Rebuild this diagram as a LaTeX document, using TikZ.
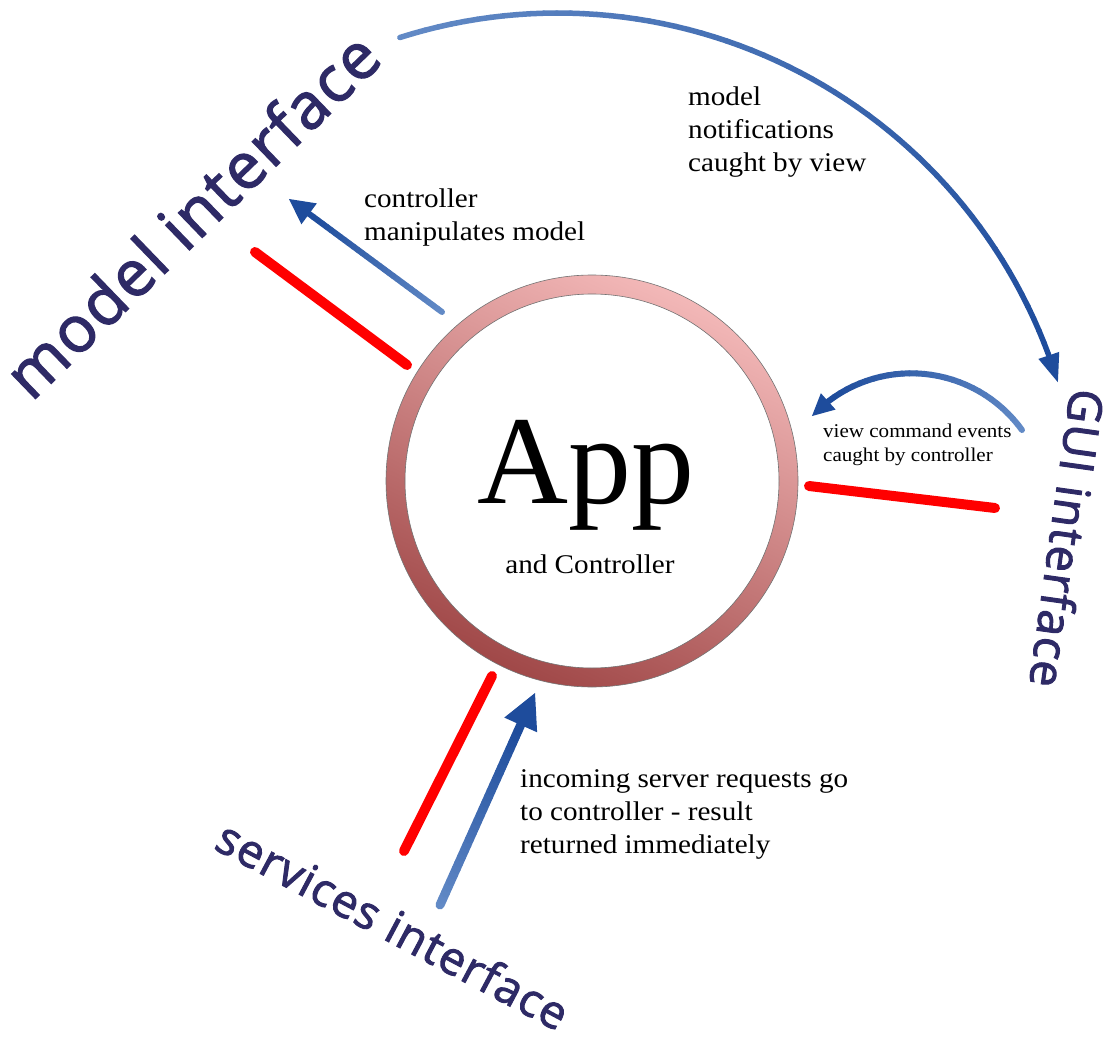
\documentclass[tikz,border=0pt]{standalone}
\usepackage{fontspec}
\usetikzlibrary{calc}
\setmainfont{Liberation Serif}
\newfontfamily\labfont[FakeStretch=1.08]{Liberation Serif}
\newfontfamily\bigsans[FakeBold=2,LetterSpace=2.5]{Open Sans}
\definecolor{navy}{RGB}{46,42,102}
\definecolor{blueL}{RGB}{98,138,198}
\definecolor{blueD}{RGB}{30,76,156}
\definecolor{ringL}{RGB}{243,184,184}
\definecolor{ringD}{RGB}{160,72,72}
\definecolor{barred}{RGB}{255,0,0}
\tikzset{
  redbar/.style={draw=barred, line width=10, line cap=round},
  lab/.style={font=\labfont\fontsize{27}{33}\selectfont, align=left, inner sep=0, anchor=base west, text=black},
  smalllab/.style={font=\labfont\fontsize{19.5}{24}\selectfont, align=left, inner sep=0, anchor=base west, text=black},
  iface/.style={text=navy, inner sep=0, anchor=base},
}
\newcommand\gradseg[4]{%
  \foreach \i in {1,...,#4}{%
    \pgfmathsetmacro\ta{(\i-1)/#4}%
    \pgfmathsetmacro\tb{\i/#4}%
    \pgfmathsetmacro\pp{100*(\i-1)/(#4-1)}%
    \draw[line width=#3, line cap=round, draw=blueD!\pp!blueL] ($(#1)!\ta!(#2)$) -- ($(#1)!\tb!(#2)$);
  }}
\newcommand\gradarc[6]{%
  \foreach \i in {1,...,#6}{%
    \pgfmathsetmacro\aa{#3+(#4-#3)*(\i-1)/#6}%
    \pgfmathsetmacro\ab{#3+(#4-#3)*\i/#6}%
    \pgfmathsetmacro\pp{100*(\i-1)/(#6-1)}%
    \draw[line width=#5, line cap=round, draw=blueD!\pp!blueL] ($(#1)+(\aa:#2)$) -- ($(#1)+(\ab:#2)$);
  }}
\newcommand\headtri[3]{%
  \fill[blueD] (#2) -- ($(#1)!#3!90:(#2)$) -- ($(#1)!#3!-90:(#2)$) -- cycle;}
\begin{document}
\begin{tikzpicture}[x=1pt,y=-1pt]
\useasboundingbox (0,0) rectangle (1116,1040);
\fill[white] (0,0) rectangle (1116,1040);

% ring
\coordinate (ctr) at (592,481);
\shade[top color=ringL, bottom color=ringD, shading angle=-25, even odd rule]
  (ctr) circle[radius=206] (ctr) circle[radius=187];
\draw[black!55, line width=0.6] (ctr) circle[radius=206] (ctr) circle[radius=187];

\node[font=\fontsize{126}{130}\selectfont, inner sep=0, anchor=base] (app) at (586,503) {App};
\node[font=\labfont\fontsize{27}{33}\selectfont, inner sep=0, anchor=base] (andc) at (590,573) {and Controller};

% interface labels
\node[iface, font=\bigsans\fontsize{64}{80}\selectfont, rotate=44] (modelIf) at (208,232) {model interface};
\node[iface, font=\bigsans\fontsize{47}{60}\selectfont, rotate=-98] (guiIf) at (1050,536) {GUI interface};
\node[iface, font=\bigsans\fontsize{46}{60}\selectfont, rotate=-28] (servIf) at (385,940) {services interface};

% text labels (base = last line)
\node[lab] (ctrlLab) at (364,241) {controller\\manipulates model};
\node[lab] (notifLab) at (688,172) {model\\notifications\\caught by view};
\node[lab] (incLab) at (520,853) {incoming server requests go\\to controller - result\\returned immediately};
\node[smalllab] (viewLab) at (823,461) {view command events\\caught by controller};

% red bars
\coordinate (rA1) at (255,252); \coordinate (rA2) at (407,365);
\coordinate (rB1) at (809,486); \coordinate (rB2) at (995,508);
\coordinate (rC1) at (492,676); \coordinate (rC2) at (404,851);
\draw[redbar] (rA1) -- (rA2);
\draw[redbar] (rB1) -- (rB2);
\draw[redbar] (rC1) -- (rC2);

% controller manipulates model arrow
\coordinate (cmTail) at (442,312);
\coordinate (cmTip) at (289,199);
\coordinate (cmBase) at ($(cmTip)!25pt!(cmTail)$);
\gradseg{cmTail}{cmBase}{6}{30}
\headtri{cmBase}{cmTip}{13pt}

% services arrow
\coordinate (svTail) at (440,905);
\coordinate (svTip) at (535,693);
\coordinate (svBase) at ($(svTip)!35pt!(svTail)$);
\gradseg{svTail}{svBase}{9}{30}
\headtri{svBase}{svTip}{18pt}

% big arc: model notifications
\coordinate (bigc) at (558,536);
\coordinate (bigTip) at ($(bigc)+(-17.1:523)$);
\coordinate (bigBase) at ($(bigc)+(-20.2:523)$);
\gradarc{bigc}{523}{-107.6}{-20.2}{5.5}{60}
\headtri{bigBase}{bigTip}{11pt}

% small arc: view command events
\coordinate (smc) at (911.2,509.9);
\coordinate (smTip) at ($(smc)+(-136.6:136.6)$);
\coordinate (smBase) at ($(smc)+(-127.4:136.6)$);
\gradarc{smc}{136.6}{-35.8}{-127.4}{6}{30}
\headtri{smBase}{smTip}{11pt}
\end{tikzpicture}
\end{document}
